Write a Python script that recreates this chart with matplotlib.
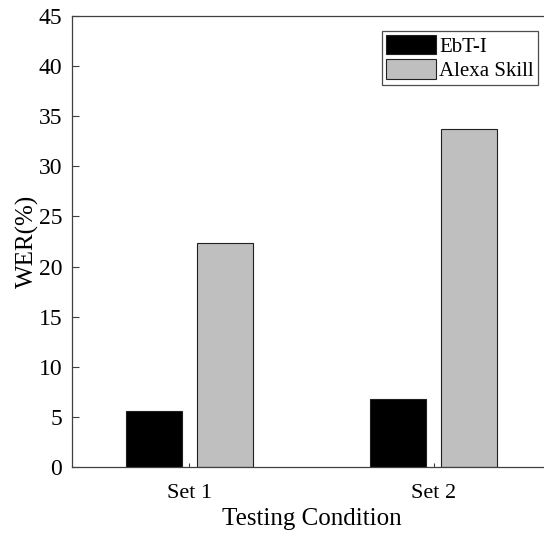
import matplotlib.pyplot as plt
import numpy as np

# data
conditions = ['Set 1', 'Set 2']
ebt_wer = [5.6, 6.8]
alexa_wer = [22.4, 33.7]
series_names = ['EbT-I', 'Alexa Skill']

plt.rcParams['font.family'] = ['Liberation Serif', 'DejaVu Serif']

fig = plt.figure(figsize=(5.44, 5.34), dpi=100)
ax = fig.add_axes([72 / 544, 67 / 534, 479 / 544, 451 / 534])

x = np.arange(1, len(conditions) + 1)
w = 0.231
off = 0.145
ax.bar(x - off, ebt_wer, w, color='black', edgecolor='#202020', linewidth=0.8, label=series_names[0])
ax.bar(x + off, alexa_wer, w, color='#bfbfbf', edgecolor='#202020', linewidth=0.8, label=series_names[1])

ax.set_xlim(0.52, 2.48)
ax.set_ylim(0, 45)
ax.set_yticks(range(0, 46, 5))
ax.set_xticks(x)
ax.set_xticklabels(conditions)

for s in ax.spines.values():
    s.set_color('#404040')
    s.set_linewidth(0.9)
ax.spines['right'].set_visible(False)

ax.tick_params(axis='y', direction='in', length=5, color='#404040', labelsize=17, pad=7)
ax.tick_params(axis='x', direction='in', length=3, color='#404040', labelsize=16, pad=12)

ax.set_xlabel('Testing Condition', fontsize=18, labelpad=4)
ax.set_ylabel('WER(%)', fontsize=18, labelpad=0)

leg = ax.legend(loc='upper left', bbox_to_anchor=(309.7 / 479, 1 - 15 / 451), fontsize=15,
                frameon=True, fancybox=False, handlelength=2.4, handleheight=1.05,
                handletextpad=0.15, borderpad=0.2, labelspacing=0.12, borderaxespad=0)
leg.get_frame().set_edgecolor('#202020')
leg.get_frame().set_linewidth(0.9)

plt.savefig('out.png', dpi=100)
